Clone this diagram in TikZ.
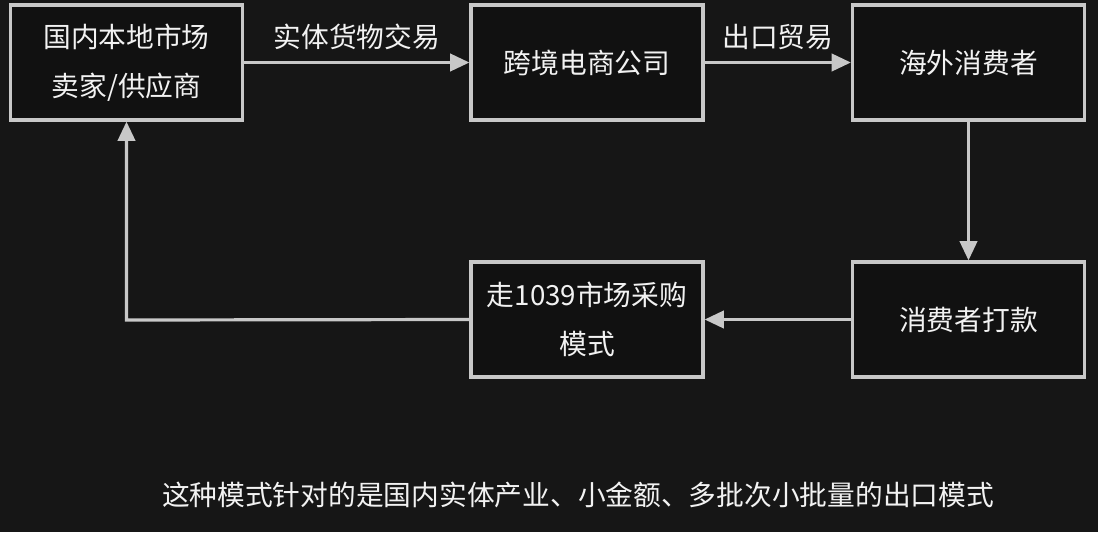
\documentclass[tikz,border=0pt]{standalone}
\usepackage{fontspec}
\setmainfont{Noto Sans CJK SC}
\usetikzlibrary{arrows.meta,positioning}
\definecolor{bgc}{HTML}{161616}
\definecolor{boxfill}{HTML}{111111}
\definecolor{linec}{HTML}{C8C8C8}
\definecolor{txtc}{HTML}{F2F2F2}
\begin{document}
\begin{tikzpicture}[x=0.75pt,y=-0.75pt,
  box/.style={draw=linec, fill=boxfill, line width=2.4pt, minimum width=174pt, minimum height=86.25pt,
    align=center, text=txtc, font=\fontsize{20.8pt}{37pt}\selectfont, inner sep=0pt},
  conn/.style={draw=linec, line width=2.4pt, -{Triangle[length=14.5pt,width=13pt]}},
  lbl/.style={text=txtc, font=\fontsize{20.8pt}{37pt}\selectfont, inner sep=0pt}]
\fill[bgc] (0,0) rectangle (1098,532);
\useasboundingbox (0,0) rectangle (1098,532);
\node[box] (a) at (126.5,62.5) {国内本地市场\\卖家/供应商};
\node[box] (b) at (587,62.5) {跨境电商公司};
\node[box] (c) at (968.5,62.5) {海外消费者};
\node[box] (d) at (968.5,319.5) {消费者打款};
\node[box] (e) at (587,319.5) {走1039市场采购\\模式};
\coordinate (corner) at (126.5,320);
\draw[conn] (a) -- node[lbl, above=8pt] {实体货物交易} (b);
\draw[conn] (b) -- node[lbl, above=8pt] {出口贸易} (c);
\draw[conn] (c) -- (d);
\draw[conn] (d) -- (e);
\draw[conn] (e.west) -- (corner) -- (a.south);
\node[lbl] (note) at (578,495) {这种模式针对的是国内实体产业、小金额、多批次小批量的出口模式};
\end{tikzpicture}
\end{document}
